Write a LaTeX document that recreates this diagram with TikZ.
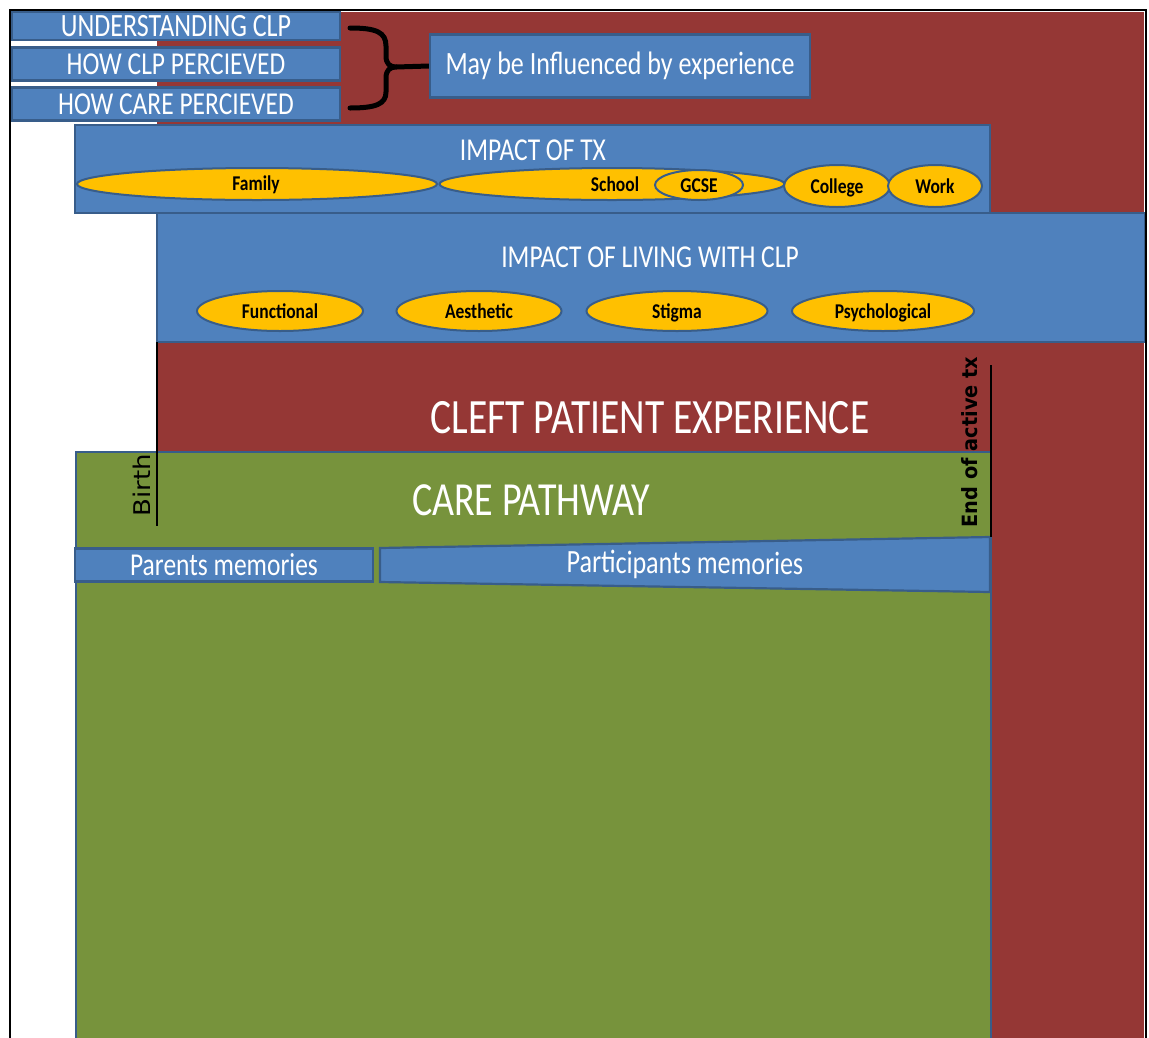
\documentclass[tikz,border=0pt]{standalone}
\usepackage{fontspec}
\usepackage{graphicx}
\setmainfont{Carlito}
\newfontfamily\dvs{DejaVu Sans}
\usetikzlibrary{shapes.geometric}
\definecolor{cred}{HTML}{953735}
\definecolor{cblue}{HTML}{4F81BD}
\definecolor{cborder}{HTML}{385D8A}
\definecolor{cgreen}{HTML}{77933C}
\definecolor{cyel}{HTML}{FFC000}
\newcommand\vstr[1]{\scalebox{1}[1.25]{#1}}
\newcommand\ostr[1]{\scalebox{1}[1.2]{#1}}
\begin{document}
\begin{tikzpicture}[x=1pt,y=-1pt,
  bbox/.style={draw=cborder, line width=2.2pt, fill=cblue, text=white, inner sep=0pt, font=\fontsize{26}{30}\selectfont},
  oval/.style={ellipse, draw=cborder, line width=2pt, fill=cyel, inner sep=0pt, font=\bfseries\fontsize{17.5}{20}\selectfont, text height=16pt, text depth=2pt},
  otext/.style={inner sep=0pt, font=\bfseries\fontsize{17.5}{20}\selectfont, text height=16pt, text depth=2pt},
  lbl/.style={text=white, inner sep=0pt},
  bigl/.style={text=white, inner sep=0pt, font=\fontsize{39.5}{44}\selectfont},
  tick/.style={line width=2.5pt, black},
  bracel/.style={line width=5pt, black, line cap=round, line join=round}
]
\useasboundingbox (0,0) rectangle (1149,1037);
% red background
\fill[cred] (157,12) rectangle (1144,1040);

% top-left boxes
\node[bbox, minimum width=328pt, minimum height=28pt] (u) at (176,26) {\vstr{UNDERSTANDING CLP}};
\node[bbox, minimum width=328pt, minimum height=33pt] (h1) at (176,64) {\fontsize{25.5}{30}\selectfont\vstr{HOW CLP PERCIEVED}};
\node[bbox, minimum width=328pt, minimum height=33pt] (h2) at (176,104) {\fontsize{25.5}{30}\selectfont\vstr{HOW CARE PERCIEVED}};

% influence box
\node[bbox, minimum width=380pt, minimum height=63pt] (infl) at (620,66) {\vstr{May be Influenced by experience}};

% brace
\coordinate (bt) at (350,28);
\coordinate (bb) at (350,108);
\coordinate (btip) at (396,67);
\draw[bracel] (bt) .. controls (376,28) and (386,32) .. (386,46) -- (386,56)
  .. controls (386,64) and (390,67) .. (btip)
  .. controls (390,67) and (386,70) .. (386,78) -- (386,92)
  .. controls (386,104) and (376,108) .. (bb);
\draw[bracel, line cap=butt] (btip) -- (infl.west);

% impact of tx
\node[bbox, minimum width=915pt, minimum height=88pt] (tx) at (532.5,169) {};
\node[lbl, font=\fontsize{25.5}{30}\selectfont] (txt) at (533,150) {\vstr{IMPACT OF TX}};
\node[oval, minimum width=360pt, minimum height=32pt] (fam) at (257,184) {};
\node[otext] (famt) at (256,183) {\ostr{Family}};
\node[oval, minimum width=345pt, minimum height=32pt] (sch) at (612,184) {};
\node[otext] (scht) at (615,184) {\ostr{School}};
\node[oval, minimum width=88pt, minimum height=30pt] (gcse) at (699,185) {\ostr{GCSE}};
\node[oval, minimum width=106pt, minimum height=42pt] (col) at (837,186) {\ostr{College}};
\node[oval, minimum width=94pt, minimum height=42pt] (work) at (935,186) {\ostr{Work}};

% impact of living with clp
\node[bbox, minimum width=988pt, minimum height=129pt] (liv) at (651,277.5) {};
\node[lbl, font=\fontsize{25.5}{30}\selectfont] (livt) at (650,257) {\vstr{IMPACT OF LIVING WITH CLP}};
\node[oval, minimum width=166pt, minimum height=40pt] (func) at (280,311) {\ostr{Functional}};
\node[oval, minimum width=165pt, minimum height=40pt] (aes) at (479,311) {\ostr{Aesthetic}};
\node[oval, minimum width=181pt, minimum height=40pt] (stig) at (677,311) {\ostr{Stigma}};
\node[oval, minimum width=182pt, minimum height=40pt] (psy) at (883,311) {\ostr{Psychological}};

% cleft patient experience
\node[bigl] (cpe) at (650,418) {\vstr{CLEFT PATIENT EXPERIENCE}};

% care pathway
\node[draw=cborder, line width=2pt, fill=cgreen, minimum width=915pt, minimum height=620pt, anchor=north west, inner sep=0pt] (care) at (75,451) {};
\node[bigl, font=\fontsize{38}{44}\selectfont] (cpt) at (531,500) {\vstr{CARE PATHWAY}};

% memories
\node[bbox, minimum width=298pt, minimum height=33pt] (par) at (224,565) {\fontsize{25.5}{30}\selectfont\vstr{Parents memories}};
\coordinate (p1) at (380,548);
\coordinate (p2) at (990,537);
\coordinate (p3) at (990,592);
\coordinate (p4) at (380,582);
\draw[draw=cborder, line width=2.2pt, fill=cblue] (p1) -- (p2) -- (p3) -- (p4) -- cycle;
\node[lbl, rotate=-0.5, font=\fontsize{26}{30}\selectfont] (part) at (685,565) {\vstr{Participants memories}};

% birth and end of tx markers
\coordinate (bir1) at (157,342);
\coordinate (bir2) at (157,526);
\draw[tick] (bir1) -- (bir2);
\node[rotate=90, inner sep=0pt, font=\dvs\fontsize{23}{26}\selectfont] (birth) at (142,485) {\scalebox{1.13}[1]{Birth}};
\coordinate (end1) at (991,365);
\coordinate (end2) at (991,537);
\draw[tick] (end1) -- (end2);
\node[rotate=90, inner sep=0pt, font=\dvs\bfseries\fontsize{21}{26}\selectfont] (endtx) at (970,442) {\scalebox{0.92}[1]{End of active tx}};

% frame
\draw[line width=2pt, black] (9.5,1040) -- (9.5,10) -- (1146,10) -- (1146,1040);
\end{tikzpicture}
\end{document}
